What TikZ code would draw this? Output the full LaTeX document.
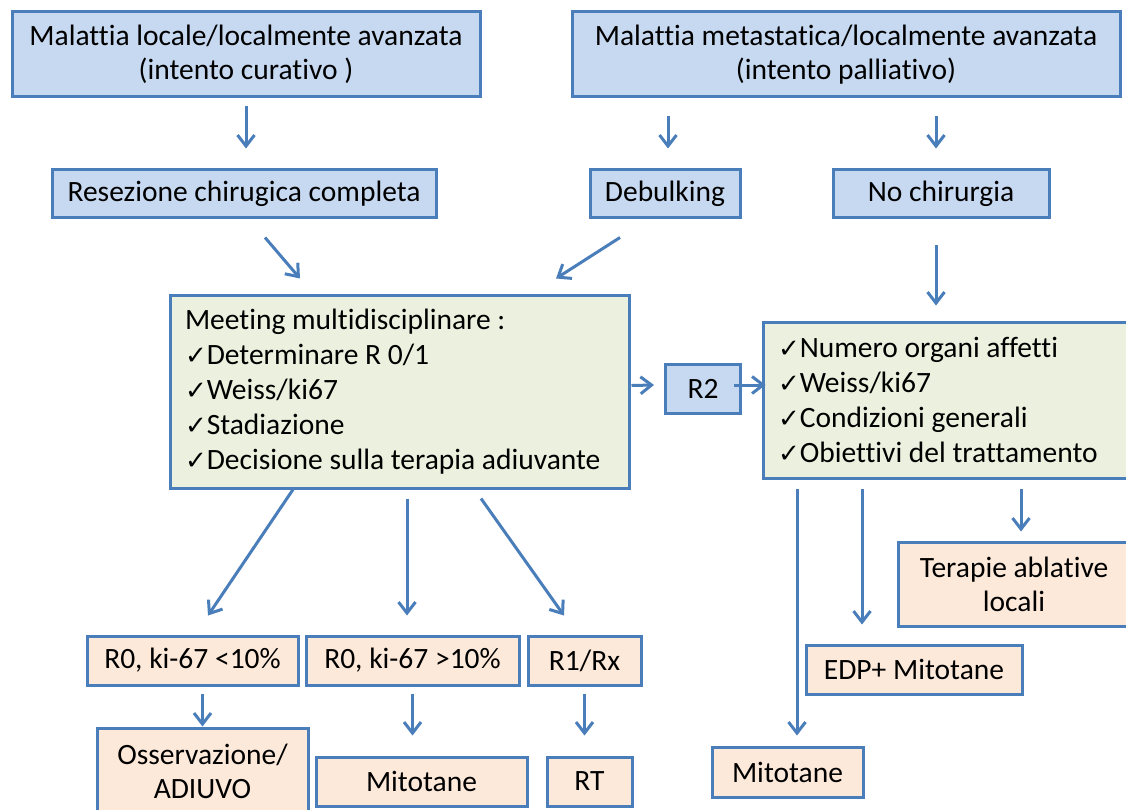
\documentclass[tikz,border=0pt]{standalone}
\usepackage{fontspec}
\setmainfont{Carlito}[Ligatures=NoCommon]
\newfontfamily\djv{DejaVu Sans}
\usetikzlibrary{arrows.meta,calc}
\definecolor{bord}{HTML}{4A7EBB}
\definecolor{bluef}{HTML}{C6D9F1}
\definecolor{greenf}{HTML}{EBF1DE}
\definecolor{peachf}{HTML}{FDE9D9}
\newcommand{\ck}{{\djv\fontsize{26}{26}\selectfont ✓}}
\begin{document}
\begin{tikzpicture}[x=1pt,y=-1pt,
  box/.style={draw=bord,line width=3pt,inner sep=0pt,font=\fontsize{29.5}{34}\selectfont,align=center},
  bbox/.style={box,fill=bluef},
  gbox/.style={box,fill=greenf,align=flush left,inner xsep=15pt,font=\fontsize{29.5}{35}\selectfont},
  pbox/.style={box,fill=peachf},
  arr/.style={draw=bord,line width=3pt,-{Straight Barb[length=11pt,width=17pt]}}]
\fill[white] (0,0) rectangle (1126,810);
\useasboundingbox (0,0) rectangle (1126,810);

% top boxes
\node[bbox,minimum width=468pt,minimum height=85pt] (A) at (246,54.5) {Malattia locale/localmente avanzata\\(intento curativo )};
\node[bbox,minimum width=548pt,minimum height=85pt] (B) at (846,54.5) {Malattia metastatica/localmente avanzata\\(intento palliativo)};

\node[bbox,minimum width=384pt,minimum height=48pt] (Res) at (244,194) {Resezione chirugica completa};
\node[bbox,minimum width=150pt,minimum height=48pt] (Deb) at (665,194) {Debulking};
\node[bbox,minimum width=216pt,minimum height=48pt] (NoC) at (941,194) {No chirurgia};

% middle boxes
\node[gbox,text width=429pt,minimum height=193pt] (Meet) at (399.5,391.5) {Meeting multidisciplinare :\\
\ck Determinare R 0/1\\
\ck Weiss/ki67\\
\ck Stadiazione\\
\ck Decisione sulla terapia adiuvante};
\node[bbox,minimum width=75pt,minimum height=49pt] (R2) at (703,389) {R2};
\node[gbox,text width=337pt,minimum height=156pt] (Right) at (946.5,400) {\ck Numero organi affetti\\
\ck Weiss/ki67\\
\ck Condizioni generali\\
\ck Obiettivi del trattamento};

% lower left boxes
\node[pbox,minimum width=211pt,minimum height=49pt] (R0a) at (192.5,660.5) {R0, ki-67 <10\%};
\node[pbox,minimum width=213pt,minimum height=49pt] (R0b) at (412.5,660.5) {R0, ki-67 >10\%};
\node[pbox,minimum width=113pt,minimum height=49pt] (R1) at (584.5,660.5) {R1/Rx};
\node[pbox,minimum width=211pt,minimum height=87pt] (Oss) at (202.5,771.5) {Osservazione/\\ADIUVO};
\node[pbox,minimum width=211pt,minimum height=49pt] (Mit1) at (421.5,781.5) {Mitotane};
\node[pbox,minimum width=85pt,minimum height=49pt] (RT) at (589.5,781.5) {RT};

% lower right boxes
\node[pbox,minimum width=232pt,minimum height=84pt] (Ter) at (1014,584) {Terapie ablative\\locali};
\node[pbox,minimum width=216pt,minimum height=49pt] (EDP) at (914,669.5) {EDP+ Mitotane};
\node[pbox,minimum width=151pt,minimum height=50pt] (Mit2) at (787.5,772) {Mitotane};

% arrows
\draw[arr] ($(A.south)+(0,8)$) -- ($(A.south |- Res.north)+(0,-20)$);
\draw[arr] ($(Deb.north |- B.south)+(3,18)$) -- ($(Deb.north)+(3,-20)$);
\draw[arr] ($(NoC.north |- B.south)+(-5,18)$) -- ($(NoC.north)+(-5,-20)$);
\draw[arr] ($(Res.south)+(21,18)$) -- ($(Meet.north)+(-99.5,-15)$);
\draw[arr] ($(Deb.south)+(-45,18)$) -- ($(Meet.north)+(156.5,-15)$);
\draw[arr] ($(NoC.south)+(-5,26)$) -- ($(Right.north)+(-10.5,-15)$);
\draw[arr] ($(Meet.east)+(1,-6)$) -- ($(R2.west)+(-10,-4)$);
\draw[arr] ($(R2.east)+(-8,-4)$) -- ($(Right.west)+(4,-15)$);

\draw[arr] ($(Meet.south)+(-106.5,0)$) -- ($(R0a.north)+(15.5,-19)$);
\draw[arr] ($(Meet.south)+(7.5,9)$) -- ($(R0b.north)+(-5.5,-19)$);
\draw[arr] ($(Meet.south)+(81.5,9)$) -- ($(R1.north)+(-20.5,-19)$);

\draw[arr] ($(Oss.north |- R0a.south)+(0,7)$) -- (Oss.north);
\draw[arr] ($(R0b.south)+(0,7)$) -- ($(Mit1.north -| R0b.south)+(0,-20)$);
\draw[arr] ($(R1.south)+(0,7)$) -- ($(RT.north -| R1.south)+(0,-20)$);

\draw[arr] ($(Right.south)+(-149.5,9)$) -- ($(Mit2.north)+(9.5,-10)$);
\draw[arr] ($(Right.south)+(-84.5,9)$) -- ($(EDP.north)+(-52,-19)$);
\draw[arr] ($(Right.south)+(74.5,9)$) -- ($(Ter.north)+(7,-9)$);
\end{tikzpicture}
\end{document}
